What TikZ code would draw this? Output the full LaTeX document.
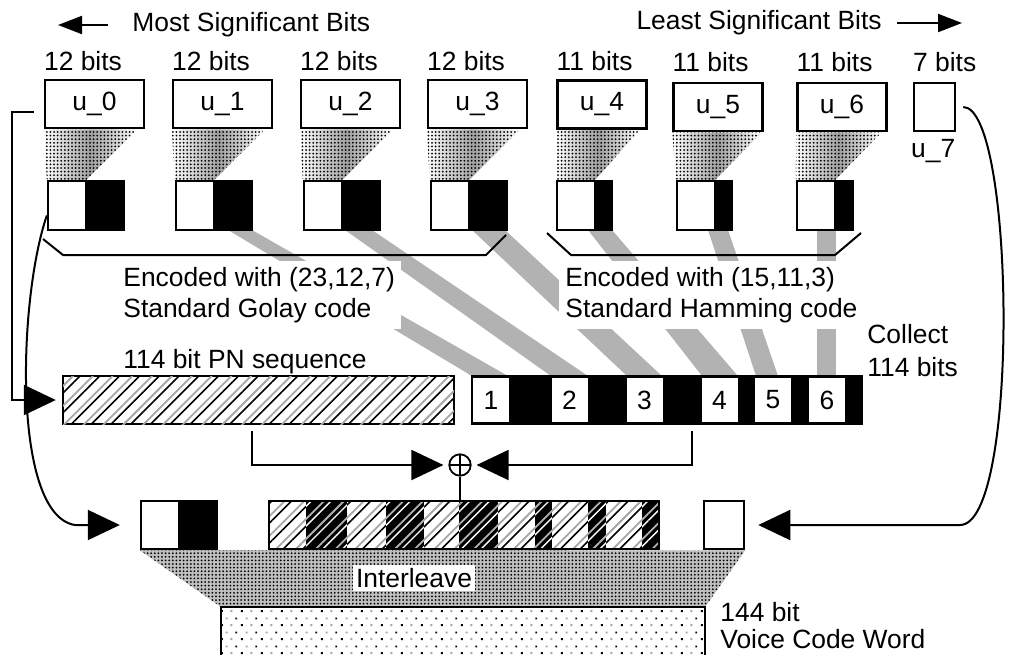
\documentclass[tikz,border=0pt]{standalone}
\usepackage{fontspec}
\setmainfont{Liberation Sans}
\usetikzlibrary{arrows.meta, patterns.meta, backgrounds, positioning}

% 音声符号語の点描
\tikzdeclarepattern{
  name=voicedots,
  type=colored,
  bounding box={(0pt,0pt) and (10pt,7pt)},
  tile size={(10pt,7pt)},
  code={
    \fill[black] (0.5pt,0.5pt) rectangle (1.5pt,1.5pt);
    \fill[gray!70] (5.5pt,0.5pt) rectangle (6.5pt,1.5pt);
    \fill[gray!70] (3pt,4pt) rectangle (4pt,5pt);
    \fill[black] (8pt,4pt) rectangle (9pt,5pt);
  }
}

\tikzset{
  ubox/.style={draw, line width=1.25pt, fill=white, inner sep=0pt, minimum height=24pt},
  codeword/.style={draw, line width=1.2pt, fill=white, inner sep=0pt, minimum height=24.5pt,
    path picture={\fill[black] (path picture bounding box.south east)
      rectangle ([xshift=-#1]path picture bounding box.north east);}},
  longbox/.style={draw, line width=1.2pt, inner sep=0pt, minimum width=195pt, minimum height=24pt},
  kcell/.style={fill=white, inner sep=0pt, minimum width=18pt, minimum height=22pt},
  lbl/.style={inner sep=0pt},
  notebox/.style={fill=white, inner sep=3pt, align=left},
  conn/.style={line width=1pt},
  bigtip/.style={-{Triangle[length=16pt,width=15pt]}},
  hdtip/.style={-{Triangle[length=12pt,width=9pt]}},
  xorop/.style={draw, circle, line width=0.9pt, minimum size=10.7pt, inner sep=0pt,
    path picture={\draw[line width=0.9pt] (path picture bounding box.north) -- (path picture bounding box.south)
      (path picture bounding box.west) -- (path picture bounding box.east);}},
  bitdots/.style={left color=white, right color=white, middle color=gray!75,
    postaction={pattern={Dots[distance=1.8pt,radius=0.5pt]}}},
  mixdots/.style={fill=gray!50, postaction={pattern={Dots[distance=1.8pt,radius=0.5pt]}}},
  gband/.style={fill=gray!60},
  pnhatch/.style={fill=white, postaction={pattern={Lines[angle=45,distance=7pt,line width=0.8pt]}},
    postaction={pattern={Lines[angle=45,distance=7pt,yshift=3.5pt,line width=0.9pt]}, pattern color=gray!70}},
  darkhatch/.style={fill=black, postaction={pattern={Lines[angle=45,distance=7pt,line width=0.7pt]}, pattern color=white},
    postaction={pattern={Lines[angle=45,distance=7pt,yshift=3.5pt,line width=0.9pt]}, pattern color=gray!60}},
}

\begin{document}
\begin{tikzpicture}[x=0.5pt, y=-0.5pt, font=\fontsize{13.2}{15.5}\selectfont]
    \useasboundingbox (0,0) rectangle (1010,654);
    % 見出し（上位ビット・下位ビット）
    \node[lbl, anchor=west] (msb) at (132,25) {Most Significant Bits};
    \coordinate (msbtip) at (58,25);
    \draw[conn, hdtip] ([xshift=-12pt]msb.west) -- (msbtip);
    \node[lbl, anchor=east] (lsb) at (882,23) {Least Significant Bits};
    \coordinate (lsbtip) at (962,23);
    \draw[conn, hdtip] ([xshift=7.5pt]lsb.east) -- (lsbtip);
    % 入力ブロック u_0 ... u_7
    \node[ubox, minimum width=49.5pt] (u0) at (94.5,104) {u\_0};
    \node[ubox, minimum width=49.5pt] (u1) at (222.5,104) {u\_1};
    \node[ubox, minimum width=49.5pt] (u2) at (350.5,104) {u\_2};
    \node[ubox, minimum width=49.5pt] (u3) at (477.5,104) {u\_3};
    \node[ubox, minimum width=44.5pt] (u4) at (602,104.5) {u\_4};
    \node[ubox, minimum width=44.5pt] (u5) at (718,107) {u\_5};
    \node[ubox, minimum width=44.5pt] (u6) at (842,107) {u\_6};
    \node[ubox, minimum width=20.5pt] (u7) at (934.5,107) {};
    \node[lbl, below right=3.5pt and -1pt of u7.south west] (l7) {u\_7};
    % ビット数
    \node[lbl, above right=4pt and 0pt of u0.north west] (b0) {12 bits};
    \node[lbl, above right=4pt and 0pt of u1.north west] (b1) {12 bits};
    \node[lbl, above right=4pt and 0pt of u2.north west] (b2) {12 bits};
    \node[lbl, above right=4pt and 0pt of u3.north west] (b3) {12 bits};
    \node[lbl, above right=4pt and 0pt of u4.north west] (b4) {11 bits};
    \node[lbl, above right=5pt and 0pt of u5.north west] (b5) {11 bits};
    \node[lbl, above right=5pt and 0pt of u6.north west] (b6) {11 bits};
    \node[lbl, above right=5pt and 0pt of u7.north west] (b7) {7 bits};
    % 符号語（白 = 情報ビット，黒 = 検査ビット）
    \node[codeword=19.5pt, minimum width=38pt] (c0) at (86,205.5) {};
    \node[codeword=19.5pt, minimum width=38pt] (c1) at (214,205.5) {};
    \node[codeword=19.5pt, minimum width=38pt] (c2) at (342,205.5) {};
    \node[codeword=19.5pt, minimum width=38pt] (c3) at (469,205.5) {};
    \node[codeword=9pt, minimum width=27.5pt] (c4) at (584.5,205.5) {};
    \node[codeword=9pt, minimum width=27.5pt] (c5) at (704.5,205.5) {};
    \node[codeword=9.5pt, minimum width=28pt] (c6) at (825,205.5) {};
    % 符号化の括弧
    \draw[conn] (43,239) -- (63,255) -- (486,255) -- (506,235);
    \draw[conn] (547,233) -- (571,255) -- (835,255) -- (861,233);
    % 説明文
    \node[notebox, anchor=west] (golay) at (117,295) {Encoded with (23,12,7)\\Standard Golay code};
    \node[notebox, anchor=west] (hamming) at (559,295) {Encoded with (15,11,3)\\Standard Hamming code};
    \node[lbl, anchor=west, align=left] (collect) at (867,351) {Collect\\[1pt]114 bits};
    \node[lbl, anchor=west] (pnlbl) at (123,362) {114 bit PN sequence};
    % PN 系列と集めた 114 ビット
    \node[longbox, pnhatch, minimum width=195.5pt] (pn) at (258.5,400) {};
    \node[longbox, fill=black] (col) at (667,400) {};
    \node[kcell] (k1) at (491,400) {1};
    \node[kcell] (k2) at (569.5,400) {2};
    \node[kcell] (k3) at (644.5,400) {3};
    \node[kcell] (k4) at (719.5,400) {4};
    \node[kcell] (k5) at (773,400) {5};
    \node[kcell] (k6) at (827,400) {6};
    % 排他的論理和
    \node[xorop] (xor) at (460,465) {};
    % 3 段目
    \node[codeword=19.5pt, minimum width=38pt, minimum height=24pt] (s0) at (179,525) {};
    \node[longbox] (mix) at (464,525) {};
    \node[ubox, minimum width=20pt] (s7) at (724,525) {};
    \node[fill=white, inner sep=1.5pt] (ilv) at (414,578) {Interleave};
    \node[lbl, anchor=west, align=left] (vcw) at (720,626) {144 bit\\[-2pt]Voice Code Word};
    % 音声符号語（下端は切れている）
    \fill[pattern=voicedots] (221,607) rectangle (705,662);
    \draw[line width=1.2pt] (221,662) -- (221,607) -- (705,607) -- (705,662);
    % 接続線
    \coordinate (lbend) at (12,400);
    \draw[conn, bigtip] ([xshift=-5pt,yshift=-4pt]u0.west) -| (lbend) -- ([xshift=-3pt]pn.west);
    \coordinate (lcurve) at (75,525);
    \draw[conn, bigtip] ([yshift=-5pt]c0.west) .. controls (18,300) and (12,515) .. (lcurve) -- ([xshift=-10pt]s0.west);
    \coordinate (rcurve) at (960,525);
    \draw[conn, bigtip] ([xshift=3.5pt]u7.east) .. controls (1015,107) and (1020,525) .. (rcurve) -- ([xshift=6.5pt]s7.east);
    \draw[conn, bigtip] ([xshift=-3.5pt,yshift=-3pt]pn.south) |- ([xshift=-2.5pt]xor.west);
    \draw[conn, bigtip] ([xshift=12.5pt,yshift=-3pt]col.south) |- ([xshift=2.5pt]xor.east);
    \draw[conn] (xor.south) -- (xor.south |- mix.north);
    % 背景（帯・点描・斜線）
    \begin{scope}[on background layer]
        % 符号語から 114 ビットへの帯
        \fill[gband] (228,230) -- (252,230) -- (508,376) -- (472,376) -- cycle;
        \fill[gband] (345,230) -- (372,230) -- (588,376) -- (551,376) -- cycle;
        \fill[gband] (472,230) -- (505,230) -- (662,376) -- (627,376) -- cycle;
        \fill[gband] (588,230) -- (612,230) -- (738,376) -- (702,376) -- cycle;
        \fill[gband] (708,230) -- (728,230) -- (778,376) -- (756,376) -- cycle;
        \fill[gband] (817,230) -- (836,230) -- (836,376) -- (817,376) -- cycle;
        % 情報ビットの対応
        \path[bitdots] (u0.south west) -- ([xshift=-4pt]u0.south east) -- ([xshift=-19.5pt]c0.north east) -- (c0.north west) -- cycle;
        \path[bitdots] (u1.south west) -- ([xshift=-4pt]u1.south east) -- ([xshift=-19.5pt]c1.north east) -- (c1.north west) -- cycle;
        \path[bitdots] (u2.south west) -- ([xshift=-4pt]u2.south east) -- ([xshift=-19.5pt]c2.north east) -- (c2.north west) -- cycle;
        \path[bitdots] (u3.south west) -- ([xshift=-4pt]u3.south east) -- ([xshift=-19.5pt]c3.north east) -- (c3.north west) -- cycle;
        \path[bitdots] (u4.south west) -- ([xshift=-4pt]u4.south east) -- ([xshift=-9pt]c4.north east) -- (c4.north west) -- cycle;
        \path[bitdots] (u5.south west) -- ([xshift=-1pt]u5.south east) -- ([xshift=-9pt]c5.north east) -- (c5.north west) -- cycle;
        \path[bitdots] (u6.south west) -- ([xshift=-3pt]u6.south east) -- ([xshift=-9.5pt]c6.north east) -- (c6.north west) -- cycle;
        % インターリーブ
        \fill[mixdots] (s0.south west) -- (s7.south east) -- (705,607) -- (221,607) -- cycle;
        % PN 系列を加えた 114 ビット
        \foreach \a/\b in {269/306, 347/386, 424/459, 498/535, 552/588, 606/642}
            \fill[pnhatch] (\a,501) rectangle (\b,549);
        \foreach \a/\b in {306/347, 386/424, 459/498, 535/552, 588/606, 642/659}
            \fill[darkhatch] (\a,501) rectangle (\b,549);
    \end{scope}
\end{tikzpicture}
\end{document}
